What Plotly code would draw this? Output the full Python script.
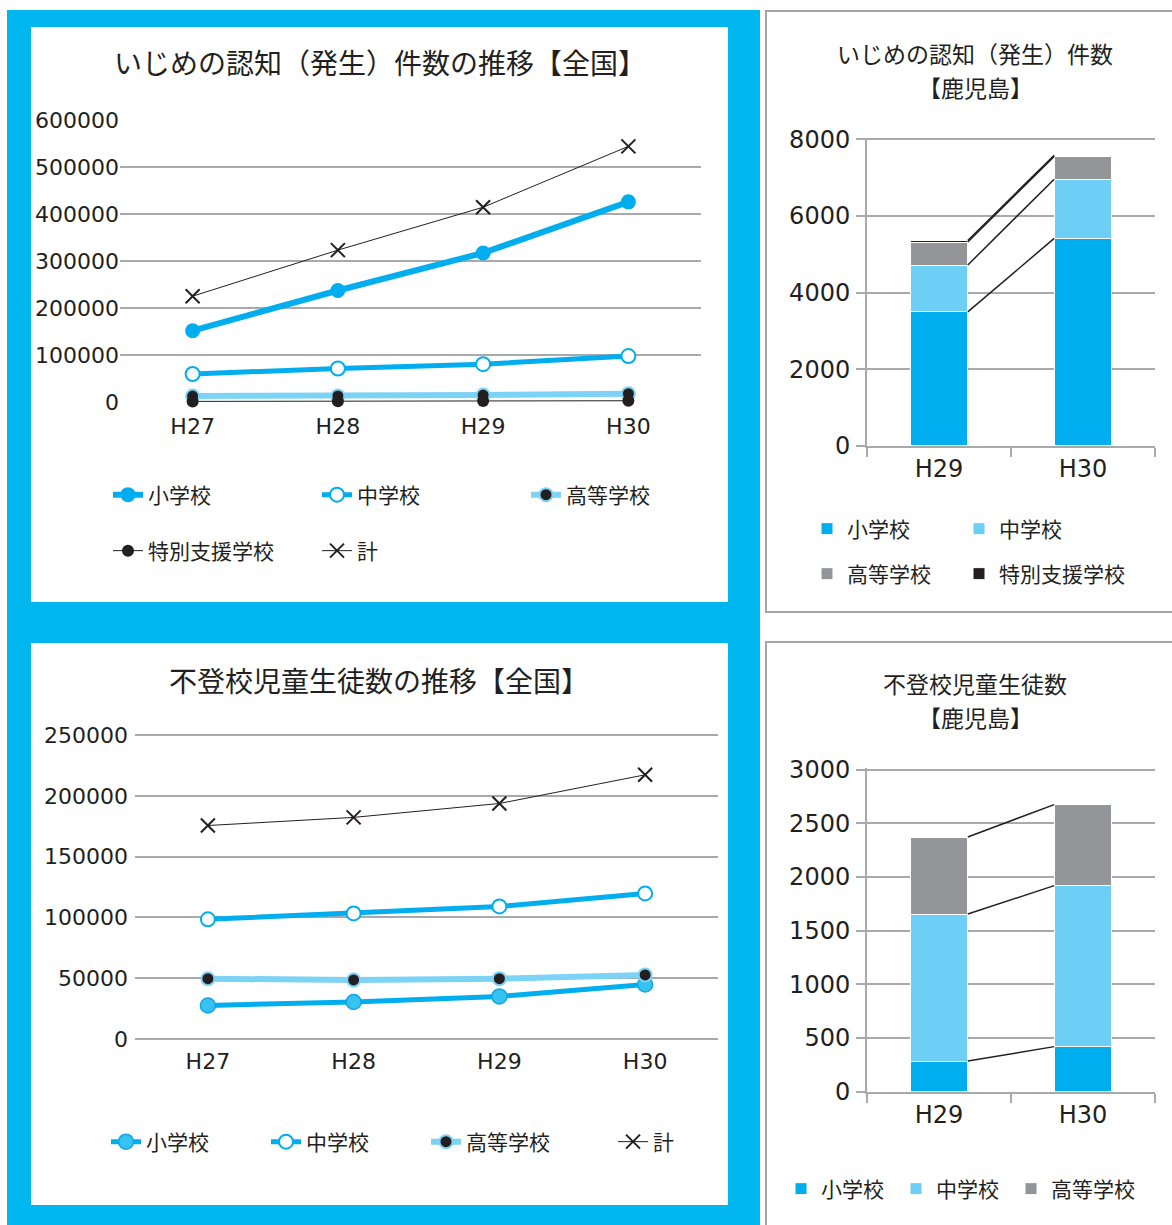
import plotly.graph_objects as go
import numpy as np

W, H = 1172, 1225
FONT = "Noto Sans CJK JP"
NUMFONT = "DejaVu Sans, Noto Sans CJK JP"
TXT = "#231f20"
GRID = "#a7a9ac"
CYAN_BG = "#00b6ef"
BLUE = "#00aeef"
LBLUE = "#7dd3f5"
BAR_LB = "#6dcff6"
GRAY = "#939598"
BLACK = "#231f20"

# ---------------- data ----------------
years_all = ["H27", "H28", "H29", "H30"]
years_k = ["H29", "H30"]

# いじめ 全国
ijime_sho = [151692, 237256, 317121, 425844]
ijime_chu = [59502, 71309, 80424, 97704]
ijime_ko = [12664, 12874, 14789, 17709]
ijime_toku = [1274, 1704, 2044, 2676]
ijime_kei = [225132, 323143, 414378, 543933]

# いじめ 鹿児島
k_ijime_sho = [3500, 5415]
k_ijime_chu = [1220, 1545]
k_ijime_ko = [600, 595]
k_ijime_toku = [40, 30]

# 不登校 全国
futoko_sho = [27583, 30448, 35032, 44841]
futoko_chu = [98408, 103235, 108999, 119687]
futoko_ko = [49563, 48565, 49643, 52723]
futoko_kei = [175554, 182248, 193674, 217251]

# 不登校 鹿児島
k_futoko_sho = [285, 420]
k_futoko_chu = [1370, 1500]
k_futoko_ko = [718, 755]

labels_sho = "小学校"
labels_chu = "中学校"
labels_ko = "高等学校"
labels_toku = "特別支援学校"
labels_kei = "計"


# ---------------- helpers ----------------
def xdom(p0, p1):
    return [p0 / W, p1 / W]


def ydom(va, pa, vb, pb, r0, r1):
    s = (pa - pb) / (vb - va)
    p_low = pa + (va - r0) * s
    p_high = pa - (r1 - va) * s
    return [1 - p_low / H, 1 - p_high / H]


def px_x(p):
    return p / W


def px_y(p):
    return 1 - p / H


fig = go.Figure()

# ---------------- chart 1 : いじめ 全国 ----------------
fig.add_trace(go.Scatter(x=years_all, y=ijime_sho, name=labels_sho, mode="lines+markers",
                         line=dict(color=BLUE, width=6),
                         marker=dict(size=15, color=BLUE, line=dict(width=0)),
                         xaxis="x", yaxis="y", legend="legend", cliponaxis=False))
fig.add_trace(go.Scatter(x=years_all, y=ijime_chu, name=labels_chu, mode="lines+markers",
                         line=dict(color=BLUE, width=5),
                         marker=dict(size=14, color="white", line=dict(width=2, color=BLUE)),
                         xaxis="x", yaxis="y", legend="legend", cliponaxis=False))
fig.add_trace(go.Scatter(x=years_all, y=ijime_ko, name=labels_ko, mode="lines+markers",
                         line=dict(color=LBLUE, width=6),
                         marker=dict(size=13, color=BLACK, line=dict(width=2, color=LBLUE)),
                         xaxis="x", yaxis="y", legend="legend", cliponaxis=False))
fig.add_trace(go.Scatter(x=years_all, y=ijime_toku, name=labels_toku, mode="lines+markers",
                         line=dict(color=BLACK, width=1),
                         marker=dict(size=12, color=BLACK),
                         xaxis="x", yaxis="y", legend="legend2", cliponaxis=False))
fig.add_trace(go.Scatter(x=years_all, y=ijime_kei, name=labels_kei, mode="lines+markers",
                         line=dict(color=BLACK, width=1),
                         marker=dict(size=14, symbol="x-thin", color=BLACK, line=dict(width=2, color=BLACK)),
                         xaxis="x", yaxis="y", legend="legend2", cliponaxis=False))

# ---------------- chart 3 : 不登校 全国 ----------------
fig.add_trace(go.Scatter(x=years_all, y=futoko_sho, name=labels_sho, mode="lines+markers",
                         line=dict(color=BLUE, width=5),
                         marker=dict(size=15, color="#38c2f1", line=dict(width=1.5, color="#12a6e3")),
                         xaxis="x3", yaxis="y3", legend="legend3", cliponaxis=False))
fig.add_trace(go.Scatter(x=years_all, y=futoko_chu, name=labels_chu, mode="lines+markers",
                         line=dict(color=BLUE, width=5),
                         marker=dict(size=14, color="white", line=dict(width=2, color=BLUE)),
                         xaxis="x3", yaxis="y3", legend="legend3", cliponaxis=False))
fig.add_trace(go.Scatter(x=years_all, y=futoko_ko, name=labels_ko, mode="lines+markers",
                         line=dict(color=LBLUE, width=6),
                         marker=dict(size=13, color=BLACK, line=dict(width=2, color=LBLUE)),
                         xaxis="x3", yaxis="y3", legend="legend3", cliponaxis=False))
fig.add_trace(go.Scatter(x=years_all, y=futoko_kei, name=labels_kei, mode="lines+markers",
                         line=dict(color=BLACK, width=1),
                         marker=dict(size=14, symbol="x-thin", color=BLACK, line=dict(width=2, color=BLACK)),
                         xaxis="x3", yaxis="y3", legend="legend4", cliponaxis=False))

# ---------------- chart 2 : いじめ 鹿児島 ----------------
xk = [0, 1]
bw_ = 0.4
bar_series2 = [(labels_sho, k_ijime_sho, BLUE, "legend5"),
               (labels_chu, k_ijime_chu, BAR_LB, "legend5"),
               (labels_ko, k_ijime_ko, GRAY, "legend6"),
               (labels_toku, k_ijime_toku, BLACK, "legend8")]
for name, vals, col, lg in bar_series2:
    fig.add_trace(go.Bar(x=xk, y=vals, name=name, width=bw_, marker=dict(color=col, line=dict(color="white", width=1)),
                         xaxis="x2", yaxis="y2", legend=lg))
cum2 = np.cumsum(np.array([s[1] for s in bar_series2]), axis=0)
for lvl in cum2:
    fig.add_trace(go.Scatter(x=[xk[0] + bw_ / 2, xk[1] - bw_ / 2], y=list(lvl), mode="lines",
                             line=dict(color=BLACK, width=1.5), showlegend=False,
                             xaxis="x2", yaxis="y2"))

# ---------------- chart 4 : 不登校 鹿児島 ----------------
bar_series4 = [(labels_sho, k_futoko_sho, BLUE, "legend7"),
               (labels_chu, k_futoko_chu, BAR_LB, "legend7"),
               (labels_ko, k_futoko_ko, GRAY, "legend9")]
for name, vals, col, lg in bar_series4:
    fig.add_trace(go.Bar(x=xk, y=vals, name=name, width=bw_, marker=dict(color=col, line=dict(color="white", width=1)),
                         xaxis="x4", yaxis="y4", legend=lg))
cum4 = np.cumsum(np.array([s[1] for s in bar_series4]), axis=0)
for lvl in cum4:
    fig.add_trace(go.Scatter(x=[xk[0] + bw_ / 2, xk[1] - bw_ / 2], y=list(lvl), mode="lines",
                             line=dict(color=BLACK, width=1.5), showlegend=False,
                             xaxis="x4", yaxis="y4"))

# ---------------- axes ----------------
tickfont_l = dict(family=NUMFONT, size=22, color=TXT)
tickfont_r = dict(family=NUMFONT, size=24, color=TXT)

line_x = dict(type="category", range=[-0.5, 3.5], showgrid=False, zeroline=False, showline=False,
              ticks="", tickfont=tickfont_l, fixedrange=True, automargin=False)
fig.update_layout(
    xaxis=dict(line_x, domain=xdom(120, 701), anchor="y", ticklabelstandoff=8),
    yaxis=dict(range=[-2000, 602000], domain=ydom(0, 402, 600000, 120, -2000, 602000),
               tickvals=[0, 100000, 200000, 300000, 400000, 500000, 600000], tickformat="d",
               showgrid=True, gridcolor=GRID, gridwidth=1.5, zeroline=False, showline=False,
               tickfont=tickfont_l, ticks="", ticklabelstandoff=0, anchor="x", fixedrange=True,
               automargin=False),
    xaxis3=dict(line_x, domain=xdom(135, 718), anchor="y3", ticklabelstandoff=6),
    yaxis3=dict(range=[-1000, 251000], domain=ydom(0, 1039, 250000, 735, -1000, 251000),
                tickvals=[0, 50000, 100000, 150000, 200000, 250000], tickformat="d",
                showgrid=True, gridcolor=GRID, gridwidth=1.5, zeroline=False, showline=False,
                tickfont=tickfont_l, ticks="", ticklabelstandoff=6, anchor="x3", fixedrange=True,
                automargin=False),
)

bar_x = dict(range=[-0.5, 1.5], tickvals=xk, ticktext=years_k, ticks="", showgrid=False, zeroline=False,
             showline=True, linecolor=GRID, linewidth=2, tickfont=tickfont_r, ticklabelstandoff=0,
             minor=dict(tickvals=[-0.5, 0.5, 1.5], ticks="outside", ticklen=9, tickcolor=GRID, tickwidth=2,
                        showgrid=False),
             fixedrange=True, automargin=False)
bar_y = dict(showgrid=True, gridcolor=GRID, gridwidth=2, zeroline=False, showline=True, linecolor=GRID,
             linewidth=2, ticks="outside", ticklen=9, tickcolor=GRID, tickwidth=2, tickfont=tickfont_r,
             ticklabelstandoff=1, tickformat="d", fixedrange=True, automargin=False)
fig.update_layout(
    xaxis2=dict(bar_x, domain=xdom(867, 1155), anchor="y2"),
    yaxis2=dict(bar_y, range=[0, 8040], domain=ydom(0, 446, 8000, 139.3, 0, 8040),
                tickvals=[0, 2000, 4000, 6000, 8000], anchor="x2"),
    xaxis4=dict(bar_x, domain=xdom(867, 1155), anchor="y4"),
    yaxis4=dict(bar_y, range=[0, 3015], domain=ydom(0, 1091.7, 3000, 769.7, 0, 3015),
                tickvals=[0, 500, 1000, 1500, 2000, 2500, 3000], anchor="x4"),
)


# ---------------- legends ----------------
def leg(xpx, ypx, size=21, ew=None):
    d = dict(orientation="h", x=px_x(xpx), y=px_y(ypx), xanchor="left", yanchor="middle",
             xref="paper", yref="paper", traceorder="normal",
             bgcolor="rgba(0,0,0,0)", font=dict(family=FONT, size=size, color=TXT),
             itemclick=False, itemdoubleclick=False, tracegroupgap=0)
    if ew:
        d.update(entrywidth=ew, entrywidthmode="pixels")
    return d


fig.update_layout(
    legend=leg(108, 495, ew=164),
    legend2=leg(108, 551, ew=164),
    legend3=leg(106, 1142, ew=115),
    legend4=leg(613, 1142),
    legend5=leg(807, 529, ew=107),
    legend6=leg(807, 574),
    legend8=leg(959, 574),
    legend7=leg(781, 1189, ew=70),
    legend9=leg(1011, 1189),
)

# ---------------- backgrounds ----------------
shapes = [
    dict(type="rect", xref="paper", yref="paper", x0=px_x(7), x1=px_x(760), y0=px_y(1230), y1=px_y(10),
         fillcolor=CYAN_BG, line=dict(width=0), layer="below"),
    dict(type="rect", xref="paper", yref="paper", x0=px_x(31), x1=px_x(728), y0=px_y(602), y1=px_y(27),
         fillcolor="white", line=dict(width=0), layer="below"),
    dict(type="rect", xref="paper", yref="paper", x0=px_x(31), x1=px_x(728), y0=px_y(1205), y1=px_y(643),
         fillcolor="white", line=dict(width=0), layer="below"),
    dict(type="rect", xref="paper", yref="paper", x0=px_x(766), x1=px_x(1180), y0=px_y(612), y1=px_y(11),
         fillcolor="white", line=dict(width=2, color="#a3a5a8"), layer="below"),
    dict(type="rect", xref="paper", yref="paper", x0=px_x(766), x1=px_x(1180), y0=px_y(1240), y1=px_y(642),
         fillcolor="white", line=dict(width=2, color="#a3a5a8"), layer="below"),
]


# ---------------- titles ----------------
def title(text, xp, yp, size):
    return dict(text=text, x=px_x(xp), y=px_y(yp), xref="paper", yref="paper",
                showarrow=False, xanchor="center", yanchor="middle",
                font=dict(family=FONT, size=size, color=TXT))


annotations = [
    title("いじめの認知（発生）件数の推移【全国】", 380, 62, 28),
    title("不登校児童生徒数の推移【全国】", 379, 680, 28),
    title("いじめの認知（発生）件数", 975, 53, 23),
    title("【鹿児島】", 975, 87, 23),
    title("不登校児童生徒数", 975, 683, 23),
    title("【鹿児島】", 975, 717, 23),
]

fig.update_layout(
    width=W, height=H, margin=dict(l=0, r=0, t=0, b=0, pad=0, autoexpand=False),
    paper_bgcolor="white", plot_bgcolor="rgba(0,0,0,0)",
    barmode="stack", hovermode=False, showlegend=True,
    font=dict(family=FONT, color=TXT),
    shapes=shapes, annotations=annotations,
)

fig.write_html("out.html")
